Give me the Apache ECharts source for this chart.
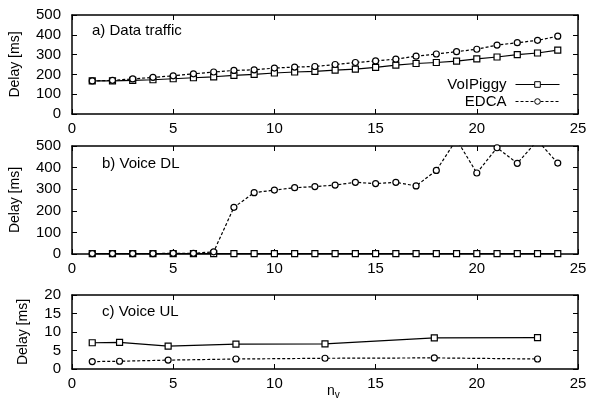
<!DOCTYPE html>
<html>
<head>
<meta charset="utf-8">
<script src="https://cdn.jsdelivr.net/npm/echarts@6/dist/echarts.min.js"></script>
<style>
  html, body { margin: 0; padding: 0; background: #fff; }
  #chart { width: 590px; height: 405px; }
</style>
</head>
<body>
<div id="chart"></div>
<script>
// n_v values for panels a) and b)
var nv = [1, 2, 3, 4, 5, 6, 7, 8, 9, 10, 11, 12, 13, 14, 15, 16, 17, 18, 19, 20, 21, 22, 23, 24];

// a) Data traffic
var dataVoip = [167, 167, 170, 173, 178, 183, 188, 195, 200, 207, 212, 215, 222, 227, 235, 247, 255, 260, 267, 278, 288, 300, 308, 323];
var dataEdca = [167, 170, 177, 185, 193, 203, 212, 220, 223, 232, 237, 240, 250, 260, 268, 277, 292, 303, 315, 327, 348, 360, 372, 393];

// b) Voice DL
var dlVoip = [2, 2, 2, 2, 2, 2, 2, 2, 2, 2, 2, 2, 2, 2, 2, 2, 2, 2, 2, 2, 2, 2, 2, 2];
var dlEdca = [2, 2, 2, 2, 3, 3, 10, 216, 284, 296, 307, 312, 319, 332, 326, 332, 315, 387, 530, 375, 492, 420, 525, 421];

// c) Voice UL (measured at fewer n_v points)
var nvUl = [1, 2.35, 4.75, 8.1, 12.5, 17.9, 23.0];
var ulVoip = [7.1, 7.2, 6.2, 6.7, 6.8, 8.4, 8.5];
var ulEdca = [2.0, 2.1, 2.4, 2.7, 2.9, 3.0, 2.7];

function pairs(xs, ys) {
  var out = [];
  for (var i = 0; i < xs.length; i++) out.push([xs[i], ys[i]]);
  return out;
}

var FONT = 'Liberation Sans';
var lineW = 1.2;
var frameW = 1.5;

var chart = echarts.init(document.getElementById('chart'), null, { renderer: 'canvas' });

var grids = [
  { left: 72, right: 12, top: 15, height: 99 },
  { left: 72, right: 12, top: 146, height: 108 },
  { left: 72, right: 12, top: 295, height: 74 }
];
var yMax = [500, 500, 20];
var yInt = [100, 100, 5];

var xAxes = [], yAxes = [];
grids.forEach(function (g, i) {
  var tickStyle = { show: true, inside: true, length: 5, lineStyle: { color: '#000', width: 1 } };
  var lineStyle = { show: true, onZero: false, lineStyle: { color: '#000', width: frameW } };
  xAxes.push({
    type: 'value', gridIndex: i, min: 0, max: 25, interval: 5, position: 'bottom',
    axisLine: lineStyle, axisTick: tickStyle, splitLine: { show: false },
    axisLabel: { color: '#000', fontFamily: FONT, fontSize: 15, margin: 7 }
  });
  xAxes.push({
    type: 'value', gridIndex: i, min: 0, max: 25, interval: 5, position: 'top',
    axisLine: lineStyle, axisTick: tickStyle, splitLine: { show: false },
    axisLabel: { show: false }
  });
  yAxes.push({
    type: 'value', gridIndex: i, min: 0, max: yMax[i], interval: yInt[i], position: 'left',
    axisLine: lineStyle, axisTick: tickStyle, splitLine: { show: false },
    axisLabel: { color: '#000', fontFamily: FONT, fontSize: 15, margin: 11 },
    name: 'Delay [ms]', nameLocation: 'middle', nameGap: i === 2 ? 42 : 50,
    nameTextStyle: { color: '#000', fontFamily: FONT, fontSize: 14 }
  });
  yAxes.push({
    type: 'value', gridIndex: i, min: 0, max: yMax[i], interval: yInt[i], position: 'right',
    axisLine: lineStyle, axisTick: tickStyle, splitLine: { show: false },
    axisLabel: { show: false }
  });
});

function mk(name, data, gi, dashed, sym) {
  return {
    name: name, type: 'line', xAxisIndex: gi * 2, yAxisIndex: gi * 2, data: data,
    symbol: sym, symbolSize: 6, showSymbol: true, clip: true, animation: false,
    itemStyle: { color: '#fff', borderColor: '#000', borderWidth: 1.2 },
    lineStyle: { color: '#000', width: lineW, type: dashed ? [3, 2] : 'solid' },
    emphasis: { disabled: true }
  };
}

var series = [
  mk('VoIPiggy', pairs(nv, dataVoip), 0, false, 'rect'),
  mk('EDCA', pairs(nv, dataEdca), 0, true, 'circle'),
  mk('VoIPiggy', pairs(nv, dlVoip), 1, false, 'rect'),
  mk('EDCA', pairs(nv, dlEdca), 1, true, 'circle'),
  mk('VoIPiggy', pairs(nvUl, ulVoip), 2, false, 'rect'),
  mk('EDCA', pairs(nvUl, ulEdca), 2, true, 'circle')
];

var txt = { fill: '#000', fontFamily: FONT, fontSize: 15 };

chart.setOption({
  backgroundColor: '#fff',
  animation: false,
  grid: grids,
  xAxis: xAxes,
  yAxis: yAxes,
  legend: {
    data: ['VoIPiggy', 'EDCA'],
    orient: 'vertical', align: 'right', right: 30, top: 77,
    padding: 0,
    itemWidth: 44, itemHeight: 7, itemGap: 2,
    lineStyle: { width: 1 },
    itemStyle: { borderWidth: 1 },
    textStyle: { color: '#000', fontFamily: FONT, fontSize: 15, padding: [0, 4, 0, 0] }
  },
  graphic: [
    { type: 'text', left: 92, top: 23, style: Object.assign({ text: 'a) Data traffic' }, txt) },
    { type: 'text', left: 102, top: 156, style: Object.assign({ text: 'b) Voice DL' }, txt) },
    { type: 'text', left: 102, top: 304, style: Object.assign({ text: 'c) Voice UL' }, txt) },
    {
      type: 'text', left: 327, top: 384,
      style: {
        text: '{n|n}{v|v}',
        rich: {
          n: { fill: '#000', fontFamily: FONT, fontSize: 14 },
          v: { fill: '#000', fontFamily: FONT, fontSize: 10, padding: [8, 0, 0, 0] }
        }
      }
    }
  ],
  series: series
});
</script>
</body>
</html>
